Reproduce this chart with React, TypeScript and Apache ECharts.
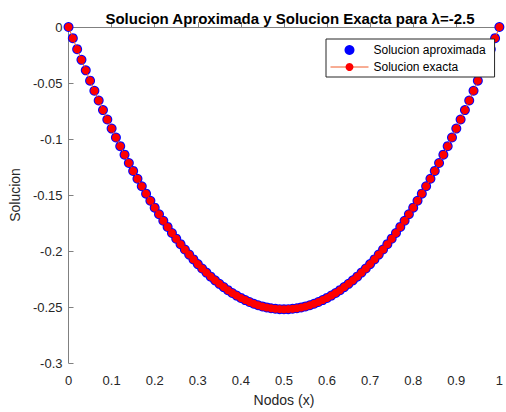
import React, { useEffect, useRef } from "react";
import * as echarts from "echarts";

const nodes: number[] = [
  0, 0.01, 0.02, 0.03, 0.04, 0.05, 0.06, 0.07, 0.08, 0.09,
  0.1, 0.11, 0.12, 0.13, 0.14, 0.15, 0.16, 0.17, 0.18, 0.19,
  0.2, 0.21, 0.22, 0.23, 0.24, 0.25, 0.26, 0.27, 0.28, 0.29,
  0.3, 0.31, 0.32, 0.33, 0.34, 0.35, 0.36, 0.37, 0.38, 0.39,
  0.4, 0.41, 0.42, 0.43, 0.44, 0.45, 0.46, 0.47, 0.48, 0.49,
  0.5, 0.51, 0.52, 0.53, 0.54, 0.55, 0.56, 0.57, 0.58, 0.59,
  0.6, 0.61, 0.62, 0.63, 0.64, 0.65, 0.66, 0.67, 0.68, 0.69,
  0.7, 0.71, 0.72, 0.73, 0.74, 0.75, 0.76, 0.77, 0.78, 0.79,
  0.8, 0.81, 0.82, 0.83, 0.84, 0.85, 0.86, 0.87, 0.88, 0.89,
  0.9, 0.91, 0.92, 0.93, 0.94, 0.95, 0.96, 0.97, 0.98, 0.99, 1,
];

const approxValues: number[] = [
  0, -0.01, -0.0198, -0.0293, -0.0387, -0.0479, -0.0569, -0.0656, -0.0742, -0.0826,
  -0.0907, -0.0987, -0.1064, -0.114, -0.1214, -0.1285, -0.1355, -0.1422, -0.1488, -0.1551,
  -0.1613, -0.1672, -0.173, -0.1785, -0.1839, -0.189, -0.1939, -0.1987, -0.2032, -0.2075,
  -0.2117, -0.2156, -0.2193, -0.2229, -0.2262, -0.2293, -0.2322, -0.235, -0.2375, -0.2398,
  -0.2419, -0.2438, -0.2455, -0.2471, -0.2484, -0.2495, -0.2504, -0.2511, -0.2516, -0.2519,
  -0.252, -0.2519, -0.2516, -0.2511, -0.2504, -0.2495, -0.2484, -0.2471, -0.2455, -0.2438,
  -0.2419, -0.2398, -0.2375, -0.235, -0.2322, -0.2293, -0.2262, -0.2229, -0.2193, -0.2156,
  -0.2117, -0.2075, -0.2032, -0.1987, -0.1939, -0.189, -0.1839, -0.1785, -0.173, -0.1672,
  -0.1613, -0.1551, -0.1488, -0.1422, -0.1355, -0.1285, -0.1214, -0.114, -0.1064, -0.0987,
  -0.0907, -0.0826, -0.0742, -0.0656, -0.0569, -0.0479, -0.0387, -0.0293, -0.0198, -0.01, 0,
];

const exactValues: number[] = [
  0, -0.01, -0.0198, -0.0293, -0.0387, -0.0479, -0.0569, -0.0656, -0.0742, -0.0826,
  -0.0907, -0.0987, -0.1064, -0.114, -0.1214, -0.1285, -0.1355, -0.1422, -0.1488, -0.1551,
  -0.1613, -0.1672, -0.173, -0.1785, -0.1839, -0.189, -0.1939, -0.1987, -0.2032, -0.2075,
  -0.2117, -0.2156, -0.2193, -0.2229, -0.2262, -0.2293, -0.2322, -0.235, -0.2375, -0.2398,
  -0.2419, -0.2438, -0.2455, -0.2471, -0.2484, -0.2495, -0.2504, -0.2511, -0.2516, -0.2519,
  -0.252, -0.2519, -0.2516, -0.2511, -0.2504, -0.2495, -0.2484, -0.2471, -0.2455, -0.2438,
  -0.2419, -0.2398, -0.2375, -0.235, -0.2322, -0.2293, -0.2262, -0.2229, -0.2193, -0.2156,
  -0.2117, -0.2075, -0.2032, -0.1987, -0.1939, -0.189, -0.1839, -0.1785, -0.173, -0.1672,
  -0.1613, -0.1551, -0.1488, -0.1422, -0.1355, -0.1285, -0.1214, -0.114, -0.1064, -0.0987,
  -0.0907, -0.0826, -0.0742, -0.0656, -0.0569, -0.0479, -0.0387, -0.0293, -0.0198, -0.01, 0,
];

const seriesNames = ["Solucion aproximada", "Solucion exacta"];
const titleText = "Solucion Aproximada y Solucion Exacta para λ=-2.5";
const xAxisName = "Nodos (x)";
const yAxisName = "Solucion";

const FONT = "Liberation Sans, Arial, Helvetica, sans-serif";
const BLUE = "#0000ff";
const RED = "#ff0000";
const LINE = "#f05a28";

export default function App() {
  const ref = useRef<HTMLDivElement>(null);
  useEffect(() => {
    if (!ref.current) return;
    const chart = echarts.init(ref.current, null, { renderer: "svg" });
    const approx = nodes.map((x, i) => [x, approxValues[i]]);
    const exact = nodes.map((x, i) => [x, exactValues[i]]);
    const axisLine = { show: true, lineStyle: { color: "#808080", width: 1 } };
    const axisTick = { show: true, inside: true, length: 5, lineStyle: { color: "#808080" } };
    chart.setOption({
      animation: false,
      backgroundColor: "#ffffff",
      textStyle: { fontFamily: FONT },
      title: {
        text: titleText,
        left: 285,
        textAlign: "center",
        top: 6,
        textStyle: { fontSize: 15, fontWeight: "bold", color: "#000", fontFamily: FONT },
      },
      legend: {
        orient: "vertical",
        left: 326,
        top: 39,
        padding: [4, 9, 3, 4],
        itemGap: 3,
        itemWidth: 38,
        itemHeight: 10,
        borderColor: "#262626",
        borderWidth: 1,
        backgroundColor: "#ffffff",
        textStyle: { fontSize: 12, color: "#000", fontFamily: FONT, lineHeight: 14 },
        data: [
          { name: seriesNames[0], itemStyle: { color: BLUE } },
          {
            name: seriesNames[1],
            itemStyle: { color: RED },
            lineStyle: { color: LINE, width: 1 },
          },
        ],
      },
      grid: { left: 68, right: 3, top: 27, bottom: 41, containLabel: false },
      xAxis: {
        type: "value",
        min: 0,
        max: 1,
        interval: 0.1,
        name: xAxisName,
        nameLocation: "middle",
        nameGap: 30,
        nameTextStyle: { fontSize: 14, color: "#262626", fontFamily: FONT },
        axisLine,
        axisTick,
        axisLabel: { fontSize: 13, color: "#262626", margin: 11, fontFamily: FONT },
        splitLine: { show: false },
      },
      yAxis: {
        type: "value",
        min: -0.3,
        max: 0,
        interval: 0.05,
        name: yAxisName,
        nameLocation: "middle",
        nameGap: 41,
        nameTextStyle: { fontSize: 14, color: "#262626", fontFamily: FONT },
        axisLine,
        axisTick,
        axisLabel: { fontSize: 13, color: "#262626", margin: 6, fontFamily: FONT },
        splitLine: { show: false },
      },
      series: [
        {
          name: seriesNames[0],
          type: "scatter",
          data: approx,
          symbol: "circle",
          symbolSize: 10,
          clip: false,
          itemStyle: { color: BLUE, opacity: 1 },
          z: 2,
        },
        {
          name: seriesNames[1],
          type: "line",
          data: exact,
          symbol: "circle",
          symbolSize: 8,
          showSymbol: true,
          clip: false,
          itemStyle: { color: RED, borderWidth: 0 },
          lineStyle: { color: LINE, width: 1 },
          z: 3,
        },
      ],
    });
    return () => chart.dispose();
  }, []);
  return (
    <div
      ref={ref}
      style={{ position: "fixed", left: 0, top: 0, width: 506, height: 412 }}
    />
  );
}
